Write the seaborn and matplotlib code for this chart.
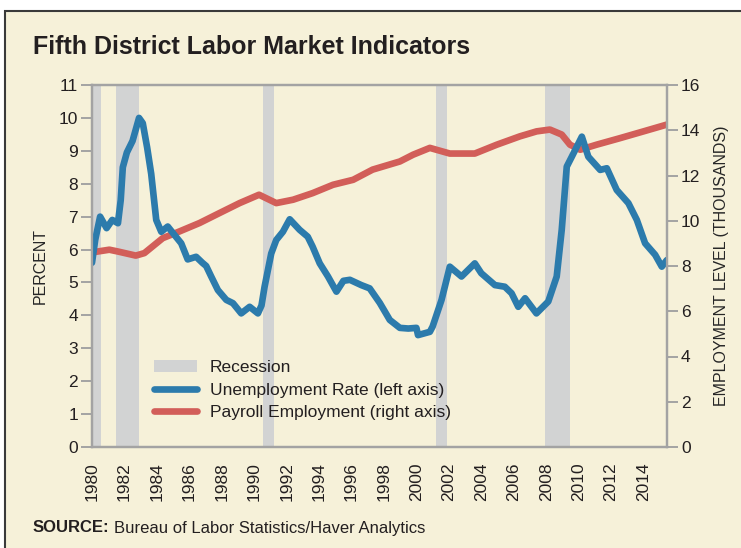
"""Fifth District labor market indicators: unemployment rate vs payroll employment."""

import matplotlib
matplotlib.use("Agg")
import matplotlib.pyplot as plt
from matplotlib.lines import Line2D
from matplotlib.patches import Patch
import seaborn as sns
import pandas as pd

# unemployment rate (percent)
unemp_year = [1980.0, 1980.2, 1980.5, 1980.9, 1981.25, 1981.6, 1981.77, 1981.9,
              1982.15, 1982.5, 1982.9, 1983.13, 1983.4, 1983.65, 1983.96, 1984.27,
              1984.67, 1985.09, 1985.5, 1985.9, 1986.42, 1986.8, 1987.04, 1987.35,
              1987.76, 1988.28, 1988.69, 1989.2, 1989.72, 1990.23, 1990.45, 1990.64,
              1991.05, 1991.36, 1991.77, 1992.19, 1992.8, 1993.3, 1993.6, 1994.04,
              1994.55, 1995.07, 1995.5, 1995.9, 1996.6, 1997.12, 1997.74, 1998.36,
              1998.98, 1999.5, 2000.0, 2000.1, 2000.83, 2001.0, 2001.55, 2002.06,
              2002.78, 2003.6, 2004.0, 2004.84, 2005.45, 2005.87, 2006.28, 2006.7,
              2007.4, 2008.13, 2008.65, 2008.96, 2009.27, 2009.58, 2010.2, 2010.6,
              2011.33, 2011.74, 2012.35, 2013.07, 2013.59, 2014.1, 2014.72, 2015.13,
              2015.44]
unemp_rate = [5.6, 6.3, 7.0, 6.65, 6.9, 6.8, 7.5, 8.5,
              8.95, 9.3, 10.0, 9.84, 9.1, 8.3, 6.9, 6.54,
              6.7, 6.44, 6.19, 5.7, 5.78, 5.6, 5.5, 5.18,
              4.77, 4.47, 4.37, 4.06, 4.26, 4.06, 4.3, 4.87,
              5.88, 6.29, 6.54, 6.92, 6.6, 6.39, 6.09, 5.58,
              5.18, 4.72, 5.05, 5.08, 4.92, 4.82, 4.38, 3.86,
              3.62, 3.6, 3.62, 3.40, 3.5, 3.66, 4.47, 5.48,
              5.18, 5.58, 5.28, 4.92, 4.87, 4.67, 4.26, 4.52,
              4.06, 4.42, 5.18, 6.6, 8.52, 8.82, 9.43, 8.82,
              8.42, 8.47, 7.81, 7.41, 6.9, 6.19, 5.84, 5.48,
              5.68]

# payroll employment (thousands, right axis)
emp_year = [1980.0, 1980.35, 1981.07, 1981.6, 1982.7, 1983.23, 1984.36, 1985.4,
            1986.63, 1987.86, 1989.1, 1990.3, 1991.36, 1992.4, 1993.6, 1994.86,
            1996.1, 1997.3, 1998.98, 1999.8, 2000.83, 2002.06, 2003.6, 2004.95,
            2006.38, 2007.41, 2008.23, 2008.96, 2009.47, 2010.1, 2011.1, 2012.55,
            2014.0, 2015.44]
payroll = [8.6, 8.64, 8.72, 8.64, 8.46, 8.57, 9.23, 9.53,
           9.9, 10.34, 10.78, 11.15, 10.78, 10.93, 11.22, 11.59,
           11.81, 12.26, 12.62, 12.92, 13.22, 12.97, 12.97, 13.36,
           13.73, 13.95, 14.03, 13.81, 13.36, 13.14, 13.36, 13.65,
           13.95, 14.25]

# recessions (start, end)
rec_start = [1980.0, 1981.5, 1990.55, 2001.2, 2007.95]
rec_end = [1980.55, 1982.9, 1991.2, 2001.9, 2009.5]

x_ticks = list(range(1980, 2015, 2))

BLUE = "#2c7bac"
RED = "#d25e59"
GREY = "#d2d3d3"
PLOT_BG = "#ede2a6"
FIG_BG = "#f6f1d9"
SPINE = "#a3a3a3"
TXT = "#231f20"


def main():
    sns.set_style("white")
    plt.rcParams["font.family"] = ["Liberation Sans", "DejaVu Sans"]
    plt.rcParams["text.color"] = TXT

    fig = plt.figure(figsize=(7.41, 5.48), dpi=100)
    fig.patch.set_facecolor("white")

    # cream panel with dark border on top/left
    fig.patches.append(plt.Rectangle((5 / 741, -0.1), 1.2, 1.1 - 11 / 548,
                                     transform=fig.transFigure, facecolor=FIG_BG,
                                     edgecolor="#3a3a3a", linewidth=1.5, zorder=-10))

    ax = fig.add_axes([92 / 741, 101 / 548, 575 / 741, 362 / 548])
    ax2 = ax.twinx()
    # keep the blue line on top of the red one
    ax.set_zorder(ax2.get_zorder() + 1)
    ax.patch.set_visible(False)
    ax2.set_facecolor(PLOT_BG)

    for s, e in zip(rec_start, rec_end):
        ax2.axvspan(s, e, color=GREY, lw=0, zorder=0)

    emp_df = pd.DataFrame({"year": emp_year, "payroll": payroll})
    sns.lineplot(data=emp_df, x="year", y="payroll", ax=ax2, color=RED, linewidth=4.8,
                 sort=False, solid_capstyle="round", solid_joinstyle="round")
    un_df = pd.DataFrame({"year": unemp_year, "rate": unemp_rate})
    sns.lineplot(data=un_df, x="year", y="rate", ax=ax, color=BLUE, linewidth=4.8,
                 sort=False, solid_capstyle="round", solid_joinstyle="round")

    ax.set_xlim(1980, 2015.45)
    ax.set_ylim(0, 11)
    ax2.set_ylim(0, 16)
    ax.set_yticks(range(0, 12))
    ax2.set_yticks(range(0, 17, 2))
    ax.set_xticks(x_ticks)
    ax.set_xticklabels([str(y) for y in x_ticks], rotation=90)

    fs = 12.5
    for a in (ax, ax2):
        for sp in a.spines.values():
            sp.set_color(SPINE)
            sp.set_linewidth(1.6)
        a.tick_params(length=8, width=1.4, color=SPINE, labelsize=fs, pad=2, labelcolor=TXT)
    ax.tick_params(axis="x", length=8, pad=3)

    ax.set_xlabel("")
    ax.set_ylabel("PERCENT", fontsize=11.5, labelpad=8)
    ax2.set_ylabel("EMPLOYMENT LEVEL (THOUSANDS)", fontsize=11.5, labelpad=10)

    handles = [Patch(facecolor=GREY, edgecolor="none"),
               Line2D([], [], color=BLUE, linewidth=4.8, solid_capstyle="round"),
               Line2D([], [], color=RED, linewidth=4.8, solid_capstyle="round")]
    labels = ["Recession", "Unemployment Rate (left axis)", "Payroll Employment (right axis)"]
    ax.legend(handles, labels, loc="lower left", bbox_to_anchor=(0.095, 0.055), frameon=False,
              fontsize=fs, handlelength=2.5, handletextpad=0.75, labelspacing=0.42,
              borderaxespad=0)

    fig.text(33 / 741, 1 - 47 / 548, "Fifth District Labor Market Indicators", fontsize=18,
             fontweight="bold", va="center", ha="left")
    src = fig.text(33 / 741, 1 - 528 / 548, "SOURCE:", fontsize=12, fontweight="bold",
                   va="center", ha="left")
    ax.annotate("Bureau of Labor Statistics/Haver Analytics", xy=(1, 0.5), xycoords=src,
                xytext=(3, 0), textcoords="offset points", fontsize=12, va="center",
                ha="left", annotation_clip=False)

    fig.savefig("out.png", dpi=100, facecolor=fig.get_facecolor())
    plt.close(fig)


if __name__ == "__main__":
    main()
